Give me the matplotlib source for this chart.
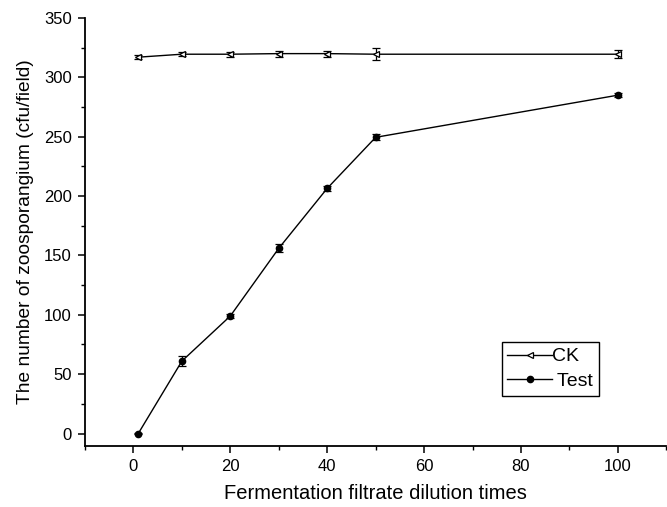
import matplotlib
matplotlib.use("Agg")
import matplotlib.pyplot as plt
from matplotlib.ticker import MultipleLocator
from matplotlib.lines import Line2D

plt.rcParams['font.family'] = ['Liberation Sans', 'DejaVu Sans']

dilution = [1, 10, 20, 30, 40, 50, 100]
ck_values = [317, 319.5, 319.5, 320, 320, 319.5, 319.5]
ck_err = [1.5, 1.5, 2, 2.5, 2.5, 5, 3.5]
test_values = [0, 61, 99, 156, 206.5, 249.5, 285]
test_err = [0.5, 4, 1.5, 3.5, 2, 2.5, 1.5]
series_labels = ['CK', ' Test']

fig = plt.figure(figsize=(6.67, 5.07), dpi=100)
ax = fig.add_axes([0.1274, 0.1203, 0.8716, 0.8442])

ax.errorbar(dilution, ck_values, yerr=ck_err, color='black', lw=1.0,
            marker='<', ms=4.5, mfc='white', mec='black', mew=0.9,
            capsize=3, elinewidth=0.9, capthick=0.9)
ax.errorbar(dilution, test_values, yerr=test_err, color='black', lw=1.0,
            marker='o', ms=4.5, mfc='black', mec='black',
            capsize=3, elinewidth=0.9, capthick=0.9)

ax.set_xlim(-10, 110)
ax.set_ylim(-10.5, 350)
ax.xaxis.set_major_locator(MultipleLocator(20))
ax.xaxis.set_minor_locator(MultipleLocator(10))
ax.yaxis.set_major_locator(MultipleLocator(50))
ax.yaxis.set_minor_locator(MultipleLocator(25))
ax.spines['top'].set_visible(False)
ax.spines['right'].set_visible(False)
for s in ('left', 'bottom'):
    ax.spines[s].set_linewidth(1.3)
ax.tick_params(which='major', direction='out', length=5.2, width=1.1, labelsize=12)
ax.tick_params(axis='y', which='major', pad=4.3)
ax.tick_params(axis='x', which='major', pad=3.8)
ax.tick_params(which='minor', direction='out', length=3, width=1.0)

ax.set_xlabel('Fermentation filtrate dilution times', fontsize=14.5, labelpad=7.5)
ax.set_ylabel('The number of zoosporangium (cfu/field)', fontsize=13.8, labelpad=7)

handles = [
    Line2D([], [], color='black', lw=1.0, marker='<', ms=4.5, mfc='white', mec='black', mew=0.9),
    Line2D([], [], color='black', lw=1.0, marker='o', ms=4.5, mfc='black', mec='black'),
]
leg = ax.legend(handles, series_labels, loc='upper left', bbox_to_anchor=(0.7165, 0.243),
                borderaxespad=0, fancybox=False, edgecolor='black', fontsize=14,
                handlelength=2.3, handletextpad=0.0, borderpad=0.3, labelspacing=0.35,
                framealpha=1)
leg.get_frame().set_linewidth(1.0)

fig.savefig('out.png', dpi=100)
